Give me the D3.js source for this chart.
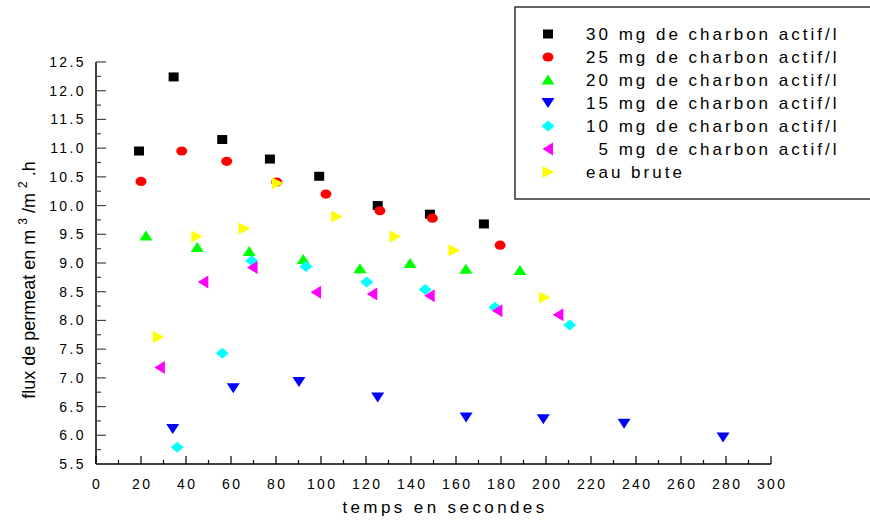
<!DOCTYPE html>
<html>
<head>
<meta charset="utf-8">
<script src="https://d3js.org/d3.v7.min.js"></script>
<style>
  body { margin: 0; background: #fff; }
  svg { font-family: "Liberation Sans", Arial, sans-serif; }
</style>
</head>
<body>
<div id="graph"></div>
<script>
// data (time in s, flux in m3/m2.h)
let t30 = [19.1, 34.5, 56.1, 77.3, 99.2, 125.2, 148.4, 172.4];
let f30 = [10.95, 12.24, 11.15, 10.81, 10.51, 10.00, 9.85, 9.68];
let t25 = [20.0, 38.1, 58.1, 80.3, 102.2, 126.2, 149.5, 179.6];
let f25 = [10.42, 10.95, 10.77, 10.41, 10.20, 9.91, 9.78, 9.31];
let t20 = [22.2, 45.0, 68.1, 92.1, 117.3, 139.6, 164.4, 188.4];
let f20 = [9.47, 9.27, 9.20, 9.06, 8.90, 8.99, 8.89, 8.87];
let t15 = [34.1, 61.0, 90.2, 125.2, 164.5, 198.8, 234.7, 278.7];
let f15 = [6.11, 6.82, 6.93, 6.66, 6.31, 6.28, 6.20, 5.96];
let t10 = [36.1, 56.1, 69.2, 93.3, 120.3, 146.3, 177.3, 210.5];
let f10 = [5.79, 7.43, 9.04, 8.94, 8.67, 8.54, 8.23, 7.92];
let t5 = [28.4, 47.7, 69.6, 97.8, 122.8, 148.3, 178.4, 205.5];
let f5 = [7.18, 8.67, 8.92, 8.49, 8.46, 8.43, 8.17, 8.10];
let tEau = [27.7, 44.8, 65.8, 80.6, 107.0, 132.9, 159.1, 199.3];
let fEau = [7.71, 9.46, 9.60, 10.39, 9.81, 9.46, 9.22, 8.40];

let labels = ["30 mg de charbon actif/l", "25 mg de charbon actif/l", "20 mg de charbon actif/l",
              "15 mg de charbon actif/l", "10 mg de charbon actif/l", "\u20075 mg de charbon actif/l", "eau brute"];
let colors = ["#000000", "#ff0000", "#00ff00", "#0000ff", "#00ffff", "#ff00ff", "#ffff00"];
let shapes = ["square", "circle", "up", "down", "diamond", "left", "right"];
let xTicks = d3.range(0, 301, 20);
let yTicks = d3.range(5.5, 12.51, 0.5);

let width = 870, height = 520;

let svg = d3.select("#graph")
    .append("svg")
    .attr("width", width)
    .attr("height", height);

let x = d3.scaleLinear().domain([0, 300]).range([96, 771]);
let y = d3.scaleLinear().domain([5.5, 12.5]).range([464, 62]);

// marker outlines (relative to marker centre)
function shapePath(s) {
    if (s == "square") return "M-5,-4.5H5V4.5H-5Z";
    if (s == "circle") return "M-5.5,0A5.5,4.6 0 1,0 5.5,0A5.5,4.6 0 1,0 -5.5,0Z";
    if (s == "up") return "M0,-5.5L6.5,4.5H-6.5Z";
    if (s == "down") return "M0,5L6.5,-5H-6.5Z";
    if (s == "diamond") return "M0,-5.5L6.5,0L0,5.5L-6.5,0Z";
    if (s == "left") return "M-5.5,0L5,-6.5V6.5Z";
    return "M6,0L-5.5,-6V6Z";
}

let series = [[t30, f30], [t25, f25], [t20, f20], [t15, f15], [t10, f10], [t5, f5], [tEau, fEau]];

// axes
let xAxis = svg.append("g");
xAxis.append("line")
    .attr("x1", x(0)).attr("x2", x(300))
    .attr("y1", y(5.5)).attr("y2", y(5.5))
    .attr("stroke", "#000").attr("stroke-width", 1.5);
xAxis.selectAll(".tk").data(d3.range(0, 301, 10)).enter()
    .append("line")
    .attr("x1", d => x(d)).attr("x2", d => x(d))
    .attr("y1", y(5.5)).attr("y2", d => y(5.5) - (d % 20 == 0 ? 8 : 4))
    .attr("stroke", "#000").attr("stroke-width", 1.2);
xAxis.selectAll("text").data(xTicks).enter()
    .append("text")
    .attr("x", d => x(d) + 1.2)
    .attr("y", 489)
    .style("text-anchor", "middle")
    .style("font-size", "14px")
    .style("letter-spacing", "2.4px")
    .text(d => d);

let yAxis = svg.append("g");
yAxis.append("line")
    .attr("x1", x(0)).attr("x2", x(0))
    .attr("y1", y(5.5)).attr("y2", y(12.5))
    .attr("stroke", "#000").attr("stroke-width", 1.5);
yAxis.selectAll(".tk").data(d3.range(5.5, 12.51, 0.25)).enter()
    .append("line")
    .attr("x1", x(0)).attr("x2", d => x(0) + (Math.round(d * 4) % 2 == 0 ? 10 : 5))
    .attr("y1", d => y(d)).attr("y2", d => y(d))
    .attr("stroke", "#444").attr("stroke-width", 1.2);
yAxis.selectAll("text").data(yTicks).enter()
    .append("text")
    .attr("x", 86)
    .attr("y", d => y(d) + 5)
    .style("text-anchor", "end")
    .style("font-size", "14px")
    .style("letter-spacing", "2.4px")
    .text(d => d.toFixed(1));

// axis titles
svg.append("text")
    .attr("x", 445)
    .attr("y", 513)
    .style("text-anchor", "middle")
    .style("font-size", "17px")
    .style("letter-spacing", "3.4px")
    .text("temps en secondes");

let yt = svg.append("text")
    .attr("transform", "translate(35, 280) rotate(-90)")
    .style("text-anchor", "middle")
    .style("font-size", "18px");
yt.append("tspan").text("flux de permeat en m ");
yt.append("tspan").attr("dy", -8).style("font-size", "12px").text("3");
yt.append("tspan").attr("dy", 8).text(" /m ");
yt.append("tspan").attr("dy", -8).style("font-size", "12px").text("2");
yt.append("tspan").attr("dy", 8).text(" .h");

// points
series.forEach(function(s, i) {
    let pts = s[0].map((t, j) => ({t: t, f: s[1][j]}));
    svg.append("g").selectAll("path").data(pts).enter()
        .append("path")
        .attr("transform", d => `translate(${x(d.t)},${y(d.f)})`)
        .attr("d", shapePath(shapes[i]))
        .attr("fill", colors[i]);
});

// legend
let legend = svg.append("g");
legend.append("rect")
    .attr("x", 515).attr("y", 7)
    .attr("width", 370).attr("height", 192)
    .attr("fill", "none")
    .attr("stroke", "#333").attr("stroke-width", 1.5);

let rows = legend.selectAll(".row").data(labels).enter()
    .append("g")
    .attr("transform", (d, i) => `translate(0, ${34 + i * 23})`);
rows.append("path")
    .attr("transform", "translate(548, 0)")
    .attr("d", (d, i) => shapePath(shapes[i]))
    .attr("fill", (d, i) => colors[i]);
rows.append("text")
    .attr("x", 586)
    .attr("y", 6)
    .style("font-size", "17px")
    .style("letter-spacing", "3px")
    .text(d => d);
</script>
</body>
</html>
